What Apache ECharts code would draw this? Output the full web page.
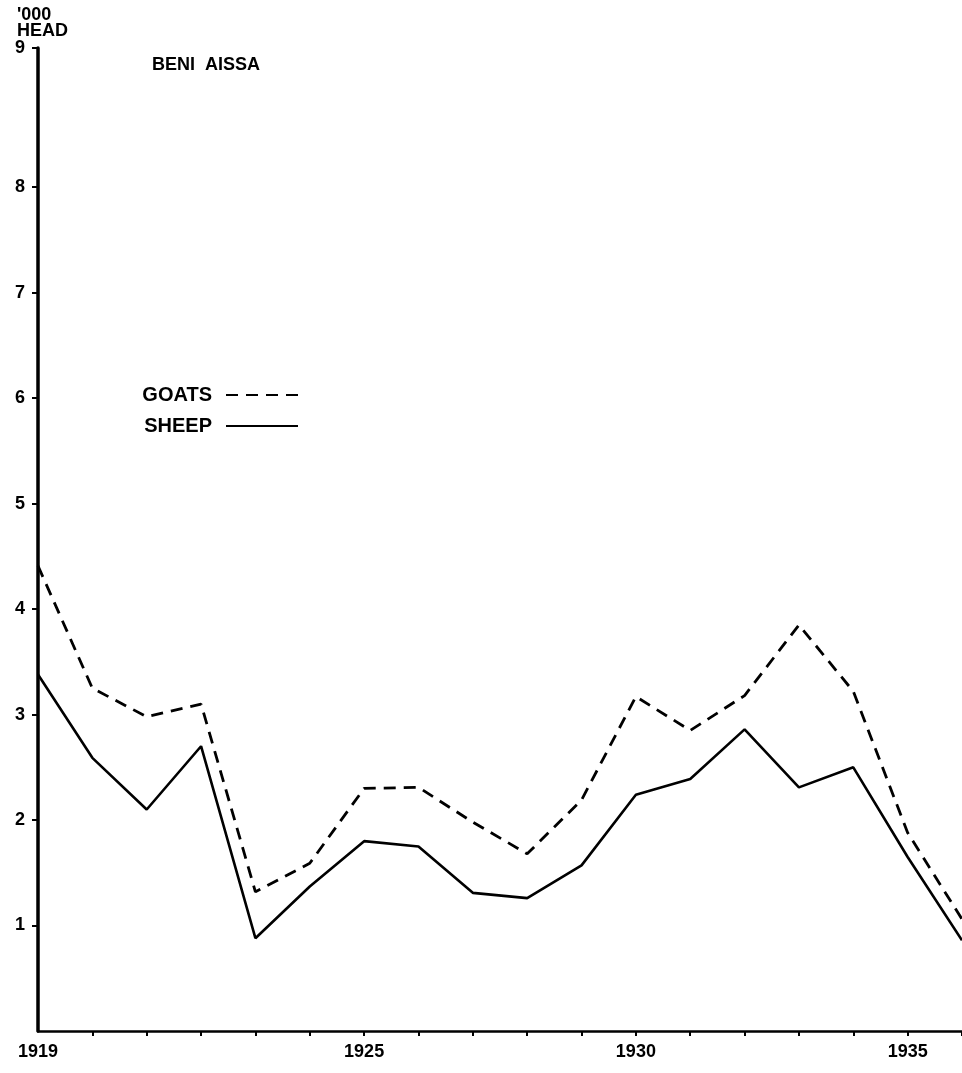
<!DOCTYPE html>
<html>
<head>
<meta charset="utf-8">
<script src="https://cdn.jsdelivr.net/npm/echarts@6/dist/echarts.min.js"></script>
<style>
html,body{margin:0;padding:0;background:#fff}
#c{width:962px;height:1073px}
</style>
</head>
<body>
<div id="c"></div>
<script>
const years = [1919,1920,1921,1922,1923,1924,1925,1926,1927,1928,1929,1930,1931,1932,1933,1934,1935,1936];
const goats = [4.41,3.25,2.98,3.10,1.32,1.59,2.30,2.31,1.98,1.68,2.19,3.17,2.85,3.18,3.85,3.22,1.88,1.06];
const sheep = [3.38,2.59,2.10,2.70,0.88,1.37,1.80,1.75,1.31,1.26,1.57,2.24,2.39,2.86,2.31,2.50,1.65,0.86];
const xLabelYears = [1919,1925,1930,1935];
const xTickYears = [1920,1921,1922,1923,1924,1925,1926,1927,1928,1929,1930,1931,1932,1933,1934,1935,1936];
// the drawn axis top (labelled "9") sits a little above the regular 9 spacing
const yTickValues = [1,2,3,4,5,6,7,8,9.32];
const yTickLabels = ['1','2','3','4','5','6','7','8','9'];
const titleText = 'BENI  AISSA';
const unitText = "'000\nHEAD";
const seriesNames = ['GOATS','SHEEP'];

const FONT = 'Liberation Sans';
const chart = echarts.init(document.getElementById('c'), null, {renderer:'canvas'});
chart.setOption({
  backgroundColor:'#fff',
  animation:false,
  title:[
    {text:titleText, left:147, top:51, textStyle:{fontFamily:FONT, fontSize:18, fontWeight:'bold', color:'#000'}},
    {text:unitText, left:12, top:2, textStyle:{fontFamily:FONT, fontSize:18, fontWeight:'bold', color:'#000', lineHeight:16}}
  ],
  legend:{
    orient:'vertical', left:130, top:380, align:'right',
    itemWidth:72, itemHeight:20, itemGap:11,
    itemStyle:{opacity:0},
    textStyle:{fontFamily:FONT, fontSize:20, fontWeight:'bold', color:'#000', width:77, lineHeight:20, padding:[0,9,0,0]},
    data:seriesNames
  },
  grid:{left:38, right:0, top:48, bottom:42, containLabel:false},
  xAxis:{
    type:'value', min:1919, max:1936, interval:1,
    axisLine:{lineStyle:{color:'#000', width:2.5}},
    axisTick:{customValues:xTickYears, length:5, lineStyle:{color:'#000', width:2}},
    axisLabel:{customValues:xLabelYears, fontFamily:FONT, fontSize:18, fontWeight:'bold', color:'#000', margin:12, formatter:v=>String(v)},
    splitLine:{show:false}
  },
  yAxis:{
    type:'value', min:0, max:9.32, interval:1,
    axisLine:{show:true, lineStyle:{color:'#000', width:3.5}},
    axisTick:{show:true, customValues:yTickValues, length:6, lineStyle:{color:'#000', width:2}},
    axisLabel:{customValues:yTickValues, fontFamily:FONT, fontSize:18, fontWeight:'bold', color:'#000', margin:13,
      formatter:v=>{const i=yTickValues.indexOf(v); return i>=0?yTickLabels[i]:'';}},
    splitLine:{show:false}
  },
  series:[
    {name:seriesNames[0], type:'line', symbol:'none', data:years.map((y,i)=>[y,goats[i]]),
      lineStyle:{color:'#000', width:2.8, type:[12,8]}, itemStyle:{color:'#000'}},
    {name:seriesNames[1], type:'line', symbol:'none', data:years.map((y,i)=>[y,sheep[i]]),
      lineStyle:{color:'#000', width:2.6, type:'solid'}, itemStyle:{color:'#000'}}
  ]
});
</script>
</body>
</html>
